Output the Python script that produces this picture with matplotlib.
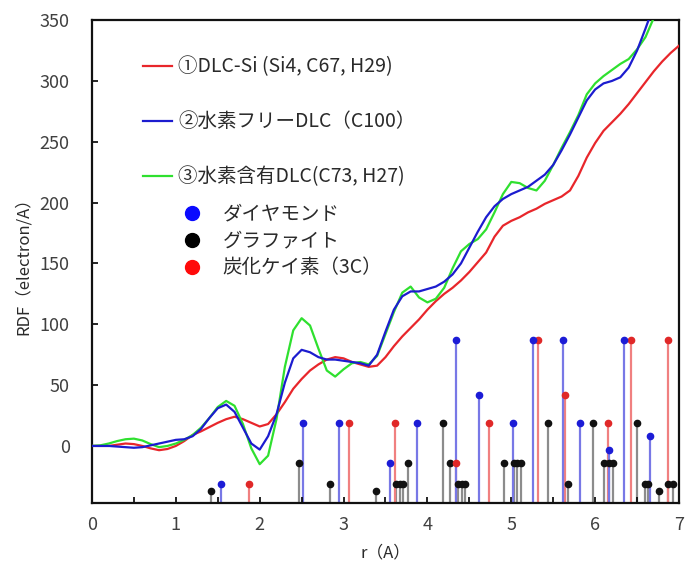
import numpy as np
import matplotlib

matplotlib.use("Agg")
import matplotlib.pyplot as plt
from matplotlib.lines import Line2D
from matplotlib.ticker import MultipleLocator

plt.rcParams["font.family"] = ["Noto Sans CJK JP", "DejaVu Sans"]

# RDF curves sampled every 0.1 A
r = np.round(np.arange(0, 7.01, 0.1), 2)
rdf_sic = [0, 0, 0, 1, 2, 1.5, 0, -2, -3.5, -2.5,
           0, 4, 9, 12, 15.5, 19, 22, 24, 22, 19,
           16, 18, 26, 36, 47, 55, 62, 67, 71, 73,
           72, 69, 67, 65, 66, 73, 82, 90, 97, 104,
           112, 119, 125, 130, 136, 143, 151, 159, 172, 181,
           185, 188, 192, 195, 199, 202, 205, 210, 222, 237,
           249, 259, 266, 273, 281, 290, 299, 308, 316, 323, 329]
rdf_free = [0, 0, 0, -0.5, -1, -1.5, -1, 0.5, 2, 3.5,
            5, 5.5, 8, 14, 23, 31, 34, 28, 15, 2,
            -3, 8, 26, 52, 72, 79, 77, 73, 71, 71,
            70, 69, 68, 66, 75, 94, 112, 123, 127, 127,
            129, 131, 135, 141, 150, 163, 176, 188, 197, 203,
            207, 210, 213, 218, 223, 231, 243, 256, 270, 284,
            293, 298, 300, 303, 311, 325, 343, 362, 380, 395, 410]
rdf_h = [0, 0.5, 2, 4, 5.5, 6, 4.5, 1.5, -1, 0,
         2, 5, 9, 15, 23, 32, 37, 33, 18, -2,
         -15, -8, 22, 65, 95, 105, 99, 80, 62, 57,
         63, 68, 69, 67, 74, 92, 110, 126, 131, 122,
         118, 121, 130, 146, 160, 166, 170, 178, 192, 207,
         217, 216, 212, 210, 218, 231, 245, 258, 272, 289,
         298, 304, 309, 314, 318, 326, 336, 352, 370, 390, 410]

# reference crystal peaks: position (A) and marker height
dia_r = [1.535, 2.515, 2.945, 3.55, 3.875, 4.345, 4.62, 5.02, 5.255, 5.62,
         5.825, 6.16, 6.345, 6.65]
dia_h = [-31, 19, 19, -14, 19, 87, 42, 19, 87, 87, 19, -3, 87, 8]
gra_r = [1.42, 2.47, 2.84, 3.385, 3.63, 3.67, 3.705, 3.765, 4.18, 4.265,
         4.37, 4.41, 4.45, 4.915, 5.03, 5.07, 5.12, 5.435, 5.68, 5.97,
         6.11, 6.16, 6.21, 6.505, 6.59, 6.63, 6.76, 6.87, 6.93]
gra_h = [-37, -14, -31, -37, -31, -31, -31, -14, 19, -14,
         -31, -31, -31, -14, -14, -14, -14, 19, -31, 19,
         -14, -14, -14, 19, -31, -31, -37, -31, -31]
sic_r = [1.87, 3.07, 3.61, 4.345, 4.73, 5.315, 5.64, 6.15, 6.43, 6.87]
sic_h = [-31, 19, 19, -14, 19, 87, 42, 19, 87, 87]

YMIN, YMAX = -47, 350
TXT = "#2a2a2a"

fig = plt.figure(figsize=(6.89, 5.75), dpi=100)
ax = fig.add_axes([0.1335, 0.125, 0.852, 0.84])

for xs, hs, stem_c, mk_c in [
    (gra_r, gra_h, "#8c8c8c", "#111111"),
    (sic_r, sic_h, "#f08080", "#e02828"),
    (dia_r, dia_h, "#7878e6", "#1c1cd6"),
]:
    ax.vlines(xs, YMIN, hs, colors=stem_c, lw=1.6, zorder=1)
    ax.plot(xs, hs, "o", ms=4.5, color=mk_c, mec=mk_c, zorder=2)

l1, = ax.plot(r, rdf_sic, color="#e8262b", lw=1.6, zorder=3)
l2, = ax.plot(r, rdf_free, color="#1c1ccf", lw=1.6, zorder=4)
l3, = ax.plot(r, rdf_h, color="#2fe02f", lw=1.6, zorder=3)

ax.set_xlim(0, 7)
ax.set_ylim(YMIN, YMAX)
ax.xaxis.set_major_locator(MultipleLocator(1))
ax.xaxis.set_minor_locator(MultipleLocator(0.5))
ax.set_yticks(range(0, 351, 50))
ax.tick_params(axis="both", direction="in", length=4, width=1.2,
               labelsize=13, labelcolor="#404040")
ax.tick_params(axis="y", pad=16)
ax.tick_params(axis="x", pad=9)
ax.tick_params(axis="x", which="minor", direction="in", length=4, width=1.2)
for s in ax.spines.values():
    s.set_linewidth(1.6)
    s.set_color("#111111")

ax.set_xlabel("r（A）", fontsize=12, color=TXT, labelpad=8)
ax.set_ylabel("RDF（electron/A）", fontsize=12, color=TXT, labelpad=6)

leg1 = ax.legend(
    [l1, l2, l3],
    ["①DLC-Si (Si4, C67, H29)", "②水素フリーDLC（C100）", "③水素含有DLC(C73, H27)"],
    loc="upper left", bbox_to_anchor=(0.087, 0.925), frameon=False,
    fontsize=14, labelcolor=TXT, handlelength=1.5, handletextpad=0.3,
    labelspacing=1.75, borderpad=0, borderaxespad=0,
)
ax.add_artist(leg1)

dots = [Line2D([], [], ls="none", marker="o", ms=10, color=c)
        for c in ["#0a0aff", "#000000", "#ff0a0a"]]
ax.legend(
    dots, ["ダイヤモンド", "グラファイト", "炭化ケイ素（3C）"],
    loc="upper left", bbox_to_anchor=(0.153, 0.62), frameon=False,
    fontsize=14, labelcolor=TXT, handlelength=1.0, handletextpad=1.1,
    labelspacing=0.3, borderpad=0, borderaxespad=0,
)

fig.savefig("out.png", dpi=100)
